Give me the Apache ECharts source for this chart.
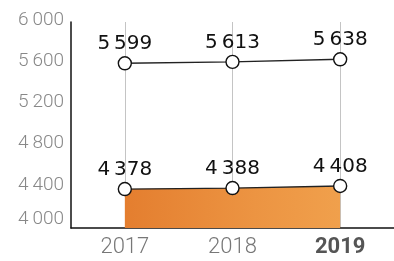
<!DOCTYPE html>
<html>
<head>
<meta charset="utf-8">
<script src="https://cdn.jsdelivr.net/npm/echarts@6/dist/echarts.min.js"></script>
<style>
  html, body { margin: 0; padding: 0; background: #fff; }
  #chart { width: 394px; height: 261px; }
</style>
</head>
<body>
<div id="chart"></div>
<script>
var years = ['2017', '2018', '2019'];
var upperValues = [5599, 5613, 5638];
var lowerValues = [4378, 4388, 4408];
var yTicks = [4000, 4400, 4800, 5200, 5600, 6000];

// 6 000 style with thin space
function fmt(v) {
    var s = String(v);
    return s.slice(0, s.length - 3) + '\u2009' + s.slice(s.length - 3);
}

var chart = echarts.init(document.getElementById('chart'));

var labelStyle = {
    show: true,
    position: 'top',
    distance: 2,
    color: '#111',
    fontSize: 20,
    fontFamily: 'DejaVu Sans',
    formatter: function (p) { return fmt(p.value); }
};

var markerStyle = { color: '#fff', borderColor: '#111', borderWidth: 1.4 };

chart.setOption({
    animation: false,
    grid: { left: 71, right: -4, top: 22, bottom: 33 },
    xAxis: {
        type: 'category',
        data: years,
        boundaryGap: true,
        axisLine: { lineStyle: { color: '#111', width: 1.5 } },
        axisTick: { show: false },
        axisLabel: {
            margin: 8,
            fontSize: 22,
            fontFamily: 'Roboto',
            fontWeight: 300,
            color: '#777',
            formatter: function (v) {
                return v === years[years.length - 1] ? '{b|' + v + '}' : v;
            },
            rich: { b: { fontSize: 22, fontFamily: 'Roboto', fontWeight: 'bold', color: '#555' } }
        },
        splitLine: { show: false }
    },
    yAxis: {
        type: 'value',
        min: yTicks[0],
        max: yTicks[yTicks.length - 1],
        interval: 400,
        axisLine: { show: true, lineStyle: { color: '#111', width: 1.5 } },
        axisTick: { show: false },
        splitLine: { show: false },
        axisLabel: {
            margin: 7,
            fontSize: 19,
            fontFamily: 'Roboto',
            fontWeight: 300,
            color: '#888',
            formatter: function (v) {
                return v === yTicks[0] ? '{low|' + fmt(v) + '}' : '{n|' + fmt(v) + '}';
            },
            rich: {
                n: { fontSize: 19, fontFamily: 'Roboto', fontWeight: 300, color: '#888', padding: [0, 0, 4, 0] },
                low: { fontSize: 19, fontFamily: 'Roboto', fontWeight: 300, color: '#888', padding: [0, 0, 18, 0] }
            }
        }
    },
    series: [
        {
            // vertical guide lines, kept behind everything
            type: 'line',
            data: [],
            z: 0,
            markLine: {
                z: 0,
                silent: true,
                symbol: 'none',
                label: { show: false },
                lineStyle: { color: '#c4c4c4', width: 1, type: 'solid' },
                data: years.map(function (y) { return { xAxis: y }; })
            }
        },
        {
            type: 'line',
            data: lowerValues,
            z: 2,
            symbol: 'circle',
            symbolSize: 13,
            itemStyle: markerStyle,
            lineStyle: { color: '#222', width: 1.3 },
            areaStyle: {
                opacity: 1,
                color: new echarts.graphic.LinearGradient(0, 0, 1, 0, [
                    { offset: 0, color: '#e47e2f' },
                    { offset: 0.6, color: '#ec9442' },
                    { offset: 1, color: '#f0a04c' }
                ])
            },
            label: labelStyle
        },
        {
            type: 'line',
            data: upperValues,
            z: 3,
            symbol: 'circle',
            symbolSize: 13,
            itemStyle: markerStyle,
            lineStyle: { color: '#222', width: 1.4 },
            label: labelStyle
        }
    ]
});
</script>
</body>
</html>
